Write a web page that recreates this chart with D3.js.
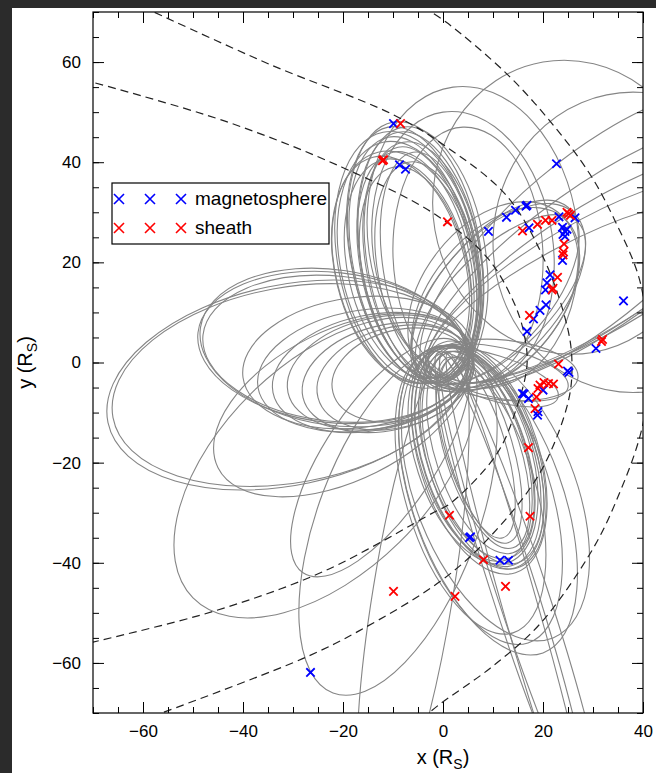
<!DOCTYPE html>
<html>
<head>
<meta charset="utf-8">
<script src="https://cdn.jsdelivr.net/npm/d3@7"></script>
<style>
  body { margin: 0; background: #fff; }
  svg { display: block; font-family: "Liberation Sans", Arial, Helvetica, sans-serif; }
</style>
</head>
<body>
<div id="chart"></div>
<script>
// ---- data (R_S units) ----
const xMajorTicks = [-60, -40, -20, 0, 20, 40];
const yMajorTicks = [-60, -40, -20, 0, 20, 40, 60];

// boundary traces, [x, y]
const boundaryInner = [[-72, 56.5], [-43.6, 48.2], [-20.2, 39], [-1.6, 29.6], [8.8, 21], [14, 12.4], [16.2, 5.8],
  [16.8, -0.5], [14.8, -8.8], [10.8, -18.2], [1.4, -28.2], [-1.6, -29.8], [-23.6, -41.6], [-45.6, -49.6], [-72, -56.3]];
const boundaryMiddle = [[-60, 71], [-34.8, 59.6], [-10.2, 49.6], [0.5, 43.2], [12.8, 33.2], [20.5, 20], [25, 6.5],
  [25.8, -0.5], [25, -8], [19.4, -22], [9.4, -34.8], [-0.4, -43.6], [-16.8, -53.6], [-28.2, -59.2], [-59, -71]];
const boundaryOuter = [[-4, 71], [0.6, 68], [12.8, 57.6], [21.4, 48.2], [29.4, 37.6], [34.3, 28.5], [39.4, 16.2],
  [41, 2], [40, -12.2], [34.5, -28], [29.4, -38.2], [19.4, -52.2], [9.5, -61], [-0.6, -68.2], [-4, -71]];

// orbits: [apoapsis x, apoapsis y, periapsis x, periapsis y, half width]
const northLoops = [
  [-10, 48, -1, -4, 13], [-11, 47, -1, -4, 12.5], [-9, 46, 0, -4, 12], [-12, 44, -2, -4, 13.5],
  [-12, 40.5, -2, -3, 12], [-10, 42, -1, -3, 11], [-8, 44, 0, -3, 11.5], [-13, 42, -2, -4, 14],
  [-11, 45, -1, -4, 12], [-9, 43, 0, -4, 10.5], [-7, 40, 1, -3, 10], [-10, 39, -1, -3, 10.5],
  [-8, 47, 0, -4, 12.5], [-12, 46, -2, -5, 14], [-6, 42, 1, -3, 9.5], [-14, 41, -3, -4, 13],
  [2, 55, 10, -5, 21], [0, 50, 8, -4, 18], [4, 47, 6, -4, 15]
];
const southLoops = [
  [14.5, -41, 0, 3, 11.3], [14, -40.5, 0, 3, 11], [13, -40, -1, 3, 11.5], [15, -41, 1, 3, 11],
  [12.5, -39.5, -1, 3, 10.5], [13.5, -39, 0, 2, 10], [15, -40, 1, 2, 10.5], [14, -38, 1, 2, 9],
  [13, -36, 2, 1, 6.5], [14, -37, 2, 1, 7.5], [12, -35, 1, 1, 6], [14.5, -42, 0, 4, 12],
  [20, -58, -2, 3, 15], [17, -56, -2, 3, 14], [14, -54, -3, 2, 13], [22, -55, -1, 3, 16]
];
const deepSouthOrbits = [
  [32, -95, 0, 2, 5], [30, -100, 1, 2, 3.5], [29, -92, -1, 2, 4.5], [-14, -95, 2, 3, 8],
  [-22, -66, 4, 3, 16]
];
const westOrbits = [
  [-67, -12, 5, 3, 20], [-66, -11, 5, 2, 19.5],
  [-49, 6, 5, 0, 15], [-48, 5.5, 5, 0, 14.5], [-48.5, 7, 5, -1, 15.5],
  [-40, -3, 6, 3, 13], [-37, -5, 6, 2, 12], [-34, -6, 6, 2, 11.5], [-31, -6, 6, 2, 11],
  [-28, -7, 6, 1, 10.5], [-25, -7, 6, 1, 10], [-22, -6, 5, 1, 9]
];
const southwestOrbits = [
  [-50, -47, 3, 5, 21], [-45, -21, 5, 4, 15], [-28, -42, 3, 4, 11]
];
const eastOrbits = [
  [26, 30, -4, -4, 12], [25, 31, -4, -3, 11], [24, 29, -3, -4, 13], [27, 28, -4, -3, 10], [23, 30, -3, -3, 14],
  [63, 40, -3, -3, 12], [60, 35, -3, -2, 11], [66, 46, -3, -3, 14], [58, 30, -3, -2, 10], [62, 52, -3, -3, 16],
  [25, -5, -3, 1, 5], [23, -7, -3, 1, 4.5], [27, -3, -3, 0, 6],
  [20, 60, 30, 2, 27], [38, 54, 38, -6, 28]
];

// crossings
const magnetosphere = [
  [-9.9, 47.7], [-8.7, 39.5], [-7.5, 38.6], [9.1, 26.2], [12.7, 29.0], [14.5, 30.4], [16.6, 31.2], [16.8, 31.4],
  [17.2, 26.9], [23.2, 29.1], [26.4, 28.9], [24.4, 26.2], [24.0, 25.6], [24.8, 26.6], [23.9, 27.0], [24.4, 25.2],
  [23.9, 20.4], [21.4, 17.5], [20.8, 15.9], [20.5, 14.5], [20.6, 11.5], [19.4, 10.4], [18.1, 8.7], [16.8, 6.2],
  [22.7, 39.7], [36.1, 12.3], [30.6, 2.8], [24.9, -1.7], [25.2, -2.0], [15.9, -6.2], [16.2, -6.3], [17.1, -7.2],
  [18.9, -10.5], [19.0, -9.8], [20.0, -5.5], [5.3, -35.0], [5.5, -34.8], [11.4, -39.5], [13.1, -39.5], [-26.5, -61.9]
];
const sheath = [
  [-8.5, 47.7], [-12.1, 40.3], [-11.9, 40.5], [0.9, 28.1], [15.9, 26.3], [18.9, 27.6], [20.5, 28.4], [21.8, 28.4],
  [25.1, 29.7], [25.5, 29.4], [24.8, 30.0], [24.2, 23.7], [24.1, 22.1], [24.0, 21.5], [22.9, 17.0], [21.8, 14.5],
  [22.0, 14.8], [17.3, 9.4], [31.7, 4.2], [31.9, 4.6], [23.1, -0.3], [19.4, -4.5], [20.2, -4.0], [21.1, -4.2],
  [22.1, -4.3], [19.0, -5.2], [18.7, -6.9], [18.4, -9.2], [17.1, -17.0], [17.4, -30.7], [1.3, -30.5], [8.1, -39.4],
  [12.5, -44.7], [2.4, -46.7], [-9.9, -45.7]
];
const legendItems = [
  { label: "magnetosphere", color: "#0000ff" },
  { label: "sheath", color: "#ff0000" }
];

// ---- layout ----
const width = 656, height = 773;
const margin = { top: 12, right: 13, bottom: 60, left: 93 };

const svg = d3.select("#chart").append("svg")
  .attr("width", width)
  .attr("height", height);

svg.append("rect").attr("width", width).attr("height", height).attr("fill", "#fff");
// dark screenshot frame
svg.append("rect").attr("width", width).attr("height", 8).attr("fill", "#2b2b2b");
svg.append("rect").attr("width", 12).attr("height", height).attr("fill", "#2b2b2b");

const x = d3.scaleLinear().domain([-70, 40]).range([margin.left, width - margin.right]);
const y = d3.scaleLinear().domain([-70, 70]).range([height - margin.bottom, margin.top]);
const kx = x(1) - x(0), ky = y(0) - y(1);

svg.append("clipPath").attr("id", "plot-clip")
  .append("rect")
  .attr("x", x(-70)).attr("y", y(70))
  .attr("width", x(40) - x(-70)).attr("height", y(-70) - y(70));

const plot = svg.append("g").attr("clip-path", "url(#plot-clip)");

// orbits
const orbits = [].concat(northLoops, southLoops, deepSouthOrbits, westOrbits, southwestOrbits, eastOrbits);
plot.append("g")
  .selectAll("ellipse")
  .data(orbits)
  .join("ellipse")
  .attr("rx", d => Math.hypot(d[0] - d[2], d[1] - d[3]) / 2)
  .attr("ry", d => d[4])
  .attr("transform", d => {
    const cx = (d[0] + d[2]) / 2, cy = (d[1] + d[3]) / 2;
    const ang = Math.atan2(d[1] - d[3], d[0] - d[2]) * 180 / Math.PI;
    return `translate(${x(cx)},${y(cy)}) scale(${kx},${-ky}) rotate(${ang})`;
  })
  .attr("fill", "none")
  .attr("stroke", "#858585")
  .attr("stroke-width", 1.1)
  .attr("vector-effect", "non-scaling-stroke");

// boundaries
const line = d3.line().x(d => x(d[0])).y(d => y(d[1])).curve(d3.curveCatmullRom);
plot.selectAll("path.boundary")
  .data([boundaryInner, boundaryMiddle, boundaryOuter])
  .join("path")
  .attr("class", "boundary")
  .attr("d", line)
  .attr("fill", "none")
  .attr("stroke", "#222")
  .attr("stroke-width", 1.2)
  .attr("stroke-dasharray", "8,5");

// crossings
const cross = s => `M${-s},${-s}L${s},${s}M${-s},${s}L${s},${-s}`;
function drawCrosses(data, color) {
  plot.append("g")
    .selectAll("path")
    .data(data)
    .join("path")
    .attr("transform", d => `translate(${x(d[0])},${y(d[1])})`)
    .attr("d", cross(4.2))
    .attr("fill", "none")
    .attr("stroke", color)
    .attr("stroke-width", 1.8);
}
drawCrosses(magnetosphere, "#0000ff");
drawCrosses(sheath, "#ff0000");

// axes: ticks on all four sides, pointing inward
const minorX = d3.range(-70, 41, 5), minorY = d3.range(-70, 71, 5);
function axisGroup(axis, tx, ty) {
  const g = svg.append("g").attr("transform", `translate(${tx},${ty})`).call(axis);
  g.select(".domain").remove();
  g.selectAll("line").attr("stroke", "#000");
  return g;
}
const fontSize = 17;
axisGroup(d3.axisBottom(x).tickValues(minorX).tickSize(-6).tickFormat(""), 0, y(-70));
axisGroup(d3.axisTop(x).tickValues(minorX).tickSize(-6).tickFormat(""), 0, y(70));
axisGroup(d3.axisLeft(y).tickValues(minorY).tickSize(-6).tickFormat(""), x(-70), 0);
axisGroup(d3.axisRight(y).tickValues(minorY).tickSize(-6).tickFormat(""), x(40), 0);
const xb = axisGroup(d3.axisBottom(x).tickValues(xMajorTicks).tickSize(-11).tickPadding(12), 0, y(-70));
axisGroup(d3.axisTop(x).tickValues(xMajorTicks).tickSize(-11).tickFormat(""), 0, y(70));
const yl = axisGroup(d3.axisLeft(y).tickValues(yMajorTicks).tickSize(-11).tickPadding(12), x(-70), 0);
axisGroup(d3.axisRight(y).tickValues(yMajorTicks).tickSize(-11).tickFormat(""), x(40), 0);
[xb, yl].forEach(g => g.selectAll("text")
  .attr("font-size", fontSize)
  .attr("font-family", "Liberation Sans, Arial, sans-serif")
  .attr("fill", "#000"));

svg.append("rect")
  .attr("x", x(-70)).attr("y", y(70))
  .attr("width", x(40) - x(-70)).attr("height", y(-70) - y(70))
  .attr("fill", "none").attr("stroke", "#000").attr("stroke-width", 1.2);

// axis titles
const xt = svg.append("text")
  .attr("x", x(0)).attr("y", 764)
  .attr("text-anchor", "middle")
  .attr("font-size", 20);
xt.append("tspan").text("x (R");
xt.append("tspan").attr("font-size", 14).attr("dy", 5).text("S");
xt.append("tspan").attr("dy", -5).text(")");

const yt = svg.append("text")
  .attr("transform", `translate(32,${y(0)}) rotate(-90)`)
  .attr("text-anchor", "middle")
  .attr("font-size", 20);
yt.append("tspan").text("y (R");
yt.append("tspan").attr("font-size", 14).attr("dy", 5).text("S");
yt.append("tspan").attr("dy", -5).text(")");

// legend
const legend = svg.append("g");
legend.append("rect")
  .attr("x", 112).attr("y", 183)
  .attr("width", 217).attr("height", 61)
  .attr("fill", "#fff").attr("stroke", "#000").attr("stroke-width", 1.2);
legendItems.forEach((item, i) => {
  const ly = 199 + i * 29;
  [119, 150, 181].forEach(lx => {
    legend.append("path")
      .attr("transform", `translate(${lx},${ly})`)
      .attr("d", cross(5))
      .attr("fill", "none")
      .attr("stroke", item.color)
      .attr("stroke-width", 1.6);
  });
  legend.append("text")
    .attr("x", 195).attr("y", ly + 6)
    .attr("font-size", 19)
    .attr("fill", "#000")
    .text(item.label);
});
</script>
</body>
</html>
